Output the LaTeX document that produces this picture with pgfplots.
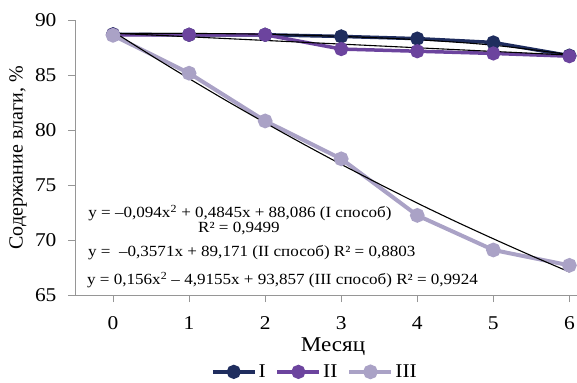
\documentclass[border=0pt]{standalone}
\usepackage{fontspec}
\setmainfont{Liberation Serif}[FakeStretch=1.1]
\newfontfamily\plainfont{Liberation Serif}
\usepackage{pgfplots}
\pgfplotsset{compat=1.18}
\definecolor{cI}{RGB}{31,45,94}
\definecolor{cII}{RGB}{108,68,158}
\definecolor{cIII}{RGB}{170,162,198}
\definecolor{axgray}{RGB}{150,150,150}
\begin{document}
\begin{tikzpicture}[x=1pt,y=1pt]
\useasboundingbox (0,0) rectangle (577,382);
\begin{axis}[
  at={(75pt,87pt)}, anchor=south west,
  scale only axis, width=502pt, height=274.5pt,
  xmin=-0.5, xmax=6.1, ymin=65, ymax=90,
  xtick={0,...,6}, ytick={65,70,...,90},
  axis x line*=bottom, axis y line*=left,
  axis line style={axgray, line width=0.8pt},
  tick style={axgray, line width=0.8pt},
  tick align=outside, major tick length=7pt,
  /pgf/number format/assume math mode=true,
  xticklabel style={font=\fontsize{19.5}{20}\selectfont, anchor=center},
  yticklabel style={font=\fontsize{19.5}{20}\selectfont, anchor=east},
  clip=false,
  legend columns=3,
  legend style={draw=none, fill=none, at={(axis description cs:0.478,-0.28)}, anchor=center,
    font=\fontsize{19.5}{20}\selectfont, inner sep=0pt,
    /tikz/every even column/.append style={column sep=8pt}},
  legend image code/.code={\draw[mark repeat=2,mark phase=2,#1] plot coordinates {(0pt,0pt) (21pt,0pt) (42pt,0pt)};},
  xticklabel shift=21pt, yticklabel shift=8pt,
]
\addplot[cI, line width=3.5pt, mark=*, mark size=5.3pt] coordinates {
(0,88.75)(1,88.7)(2,88.7)(3,88.55)(4,88.35)(5,88.0)(6,86.8)};
\addplot[cII, line width=3.5pt, mark=*, mark size=5.3pt] coordinates {
(0,88.7)(1,88.7)(2,88.7)(3,87.4)(4,87.2)(5,87.0)(6,86.75)};
\addplot[cIII, line width=4pt, mark=*, mark size=5.3pt] coordinates {
(0,88.65)(1,85.2)(2,80.85)(3,77.4)(4,72.25)(5,69.1)(6,67.7)};
\legend{I,II,III}
\addplot[black, line width=1.1pt, smooth, forget plot] coordinates {
(0,88.8)(1,88.82)(2,88.75)(3,88.55)(4,88.25)(5,87.75)(6,86.9)};
\addplot[black, line width=1.1pt, forget plot] coordinates {
(0,88.85)(6,86.85)};
\addplot[black, line width=1.1pt, smooth, forget plot] coordinates {
(0,89.0)(0.5,86.82)(1,84.71)(1.5,82.66)(2,80.68)(2.5,78.76)(3,76.90)(3.5,75.11)(4,73.37)(4.5,71.71)(5,70.12)(5.5,68.58)(6,67.1)};
\end{axis}
\node[rotate=90, font=\plainfont\fontsize{20}{21}\selectfont] at (18,224) {Содержание влаги, \%};
\node[font=\fontsize{21}{22}\selectfont] at (333,35) {Месяц};
\begin{scope}[every node/.style={font=\fontsize{15.5}{16}\selectfont, inner sep=0pt}]
\node at (240,169) {y = –0,094x\textsuperscript{2} + 0,4845x + 88,086 (I способ)};
\node at (239,153) {R² = 0,9499};
\node[anchor=west] at (88,129) {y =\ \ –0,3571x + 89,171 (II способ) R² = 0,8803};
\node[anchor=west] at (87,102) {y = 0,156x\textsuperscript{2} – 4,9155x + 93,857 (III способ) R² = 0,9924};
\end{scope}
\end{tikzpicture}
\end{document}
